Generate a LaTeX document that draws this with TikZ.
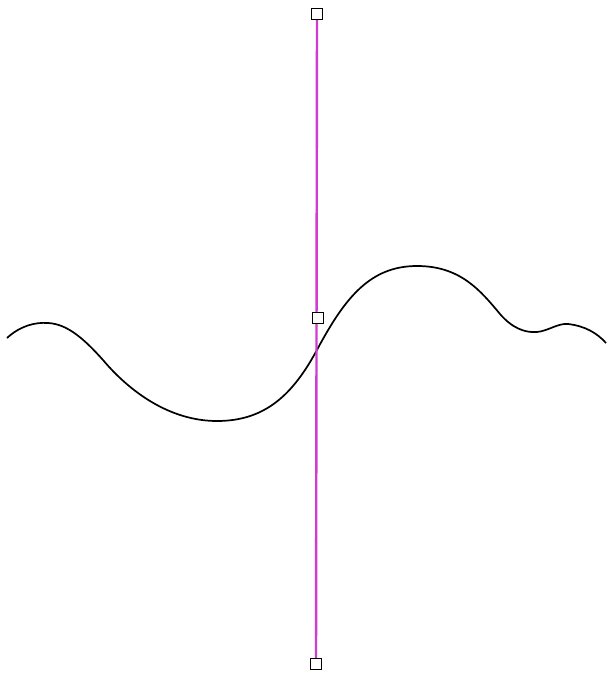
\documentclass[tikz,border=0pt]{standalone}
\begin{document}
\begin{tikzpicture}[x=1pt,y=-1pt,
  handle/.style={draw=black,fill=white,line width=1.4pt,minimum size=11pt,inner sep=0pt,outer sep=0pt},
  curveline/.style={line width=1.7pt,black,line join=round},
  stick/.style={line width=2.4pt,color={rgb,255:red,208;green,60;blue,208}}]
\useasboundingbox (0,0) rectangle (607,676);
\fill[white] (0,0) rectangle (607,676);
\draw[curveline] (7,338) .. controls (20,326) and (35,322) .. (48,323)
  .. controls (68,324) and (85,340) .. (103,360)
  .. controls (130,392) and (170,421) .. (217,421)
  .. controls (265,421) and (293,395) .. (318,348)
  .. controls (345,298) and (370,266) .. (417,266)
  .. controls (460,266) and (480,290) .. (500,314)
  .. controls (512,328) and (525,333) .. (537,332)
  .. controls (548,331) and (558,323) .. (568,324)
  .. controls (585,326) and (597,333) .. (606,343);
\coordinate (t) at (317,14);
\coordinate (b) at (316,664);
\draw[stick] (t) -- (b);
\node[handle] (top) at (t) {};
\node[handle] (mid) at (318,318) {};
\node[handle] (bot) at (b) {};
\end{tikzpicture}
\end{document}
